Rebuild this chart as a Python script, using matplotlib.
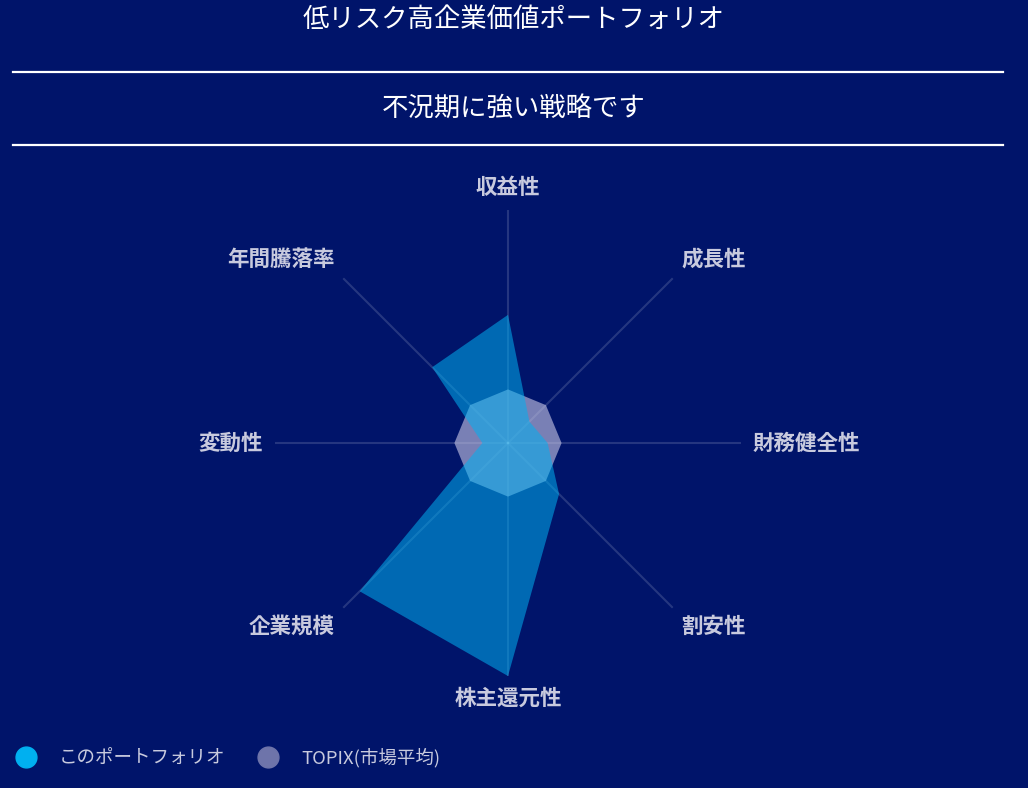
import numpy as np
import matplotlib
matplotlib.use('Agg')
import matplotlib.pyplot as plt
from matplotlib.lines import Line2D

plt.rcParams['font.family'] = ['Noto Sans CJK JP', 'DejaVu Sans']

# データ
categories = ['収益性', '成長性', '財務健全性', '割安性', '株主還元性', '企業規模', '変動性', '年間騰落率']
portfolio = [55, 13, 17, 31, 100, 90, 11, 46]
topix = [23, 23, 23, 23, 23, 23, 23, 23]
series_names = ['このポートフォリオ', 'TOPIX(市場平均)']

title = '低リスク高企業価値ポートフォリオ'
subtitle = '不況期に強い戦略です'

bg = '#00146a'
c_port = '#00b0f0'
c_topix = '#c4c4e4'
label_col = '#c8cade'

fig = plt.figure(figsize=(10.28, 7.88), dpi=100, facecolor=bg)

# タイトルと区切り線
fig.text(0.5, 0.975, title, ha='center', va='center', color='white', fontsize=19)
fig.text(0.5, 0.862, subtitle, ha='center', va='center', color='white', fontsize=19)
for yy in [0.9086, 0.816]:
    fig.add_artist(Line2D([0.0126, 0.9757], [yy, yy], color='white', lw=1.6,
                          transform=fig.transFigure))

ax = fig.add_axes([0.2675, 0.1421, 0.4533, 0.5914], projection='polar')
ax.set_facecolor('none')
ax.set_theta_offset(np.pi / 2)
ax.set_theta_direction(-1)
ax.set_ylim(0, 100)
ax.grid(False)
ax.spines['polar'].set_visible(False)
ax.set_xticks([])
ax.set_yticks([])

n = len(categories)
theta = np.arange(n) * 2 * np.pi / n

# 軸線
for t in theta:
    ax.plot([t, t], [0, 100], color='white', alpha=0.15, lw=1.5, zorder=1)

# 系列
th = np.append(theta, theta[0])
tp = np.append(topix, topix[0])
pf = np.append(portfolio, portfolio[0])
ax.fill(th, tp, color=c_topix, alpha=0.62, lw=0, zorder=2)
ax.fill(th, pf, color=c_port, alpha=0.55, lw=0, zorder=3)

# ラベル
for t, name in zip(theta, categories):
    s, c = np.sin(t), np.cos(t)
    ha = 'left' if s > 0.1 else ('right' if s < -0.1 else 'center')
    va = 'bottom' if c > 0.1 else ('top' if c < -0.1 else 'center')
    ax.text(t, 105, name, ha=ha, va=va, color=label_col, fontsize=15.5,
            fontweight='bold')

# 凡例
handles = [Line2D([], [], marker='o', linestyle='', markersize=15, color=c_port),
           Line2D([], [], marker='o', linestyle='', markersize=15, color='#6e74aa')]
leg = fig.legend(handles, series_names, loc='lower left', bbox_to_anchor=(0.0, 0.005),
                 ncol=2, frameon=False, fontsize=13.3, handletextpad=1.3,
                 columnspacing=1.8, handlelength=1.0)
for txt in leg.get_texts():
    txt.set_color(label_col)

fig.savefig('out.png', dpi=100, facecolor=bg)
